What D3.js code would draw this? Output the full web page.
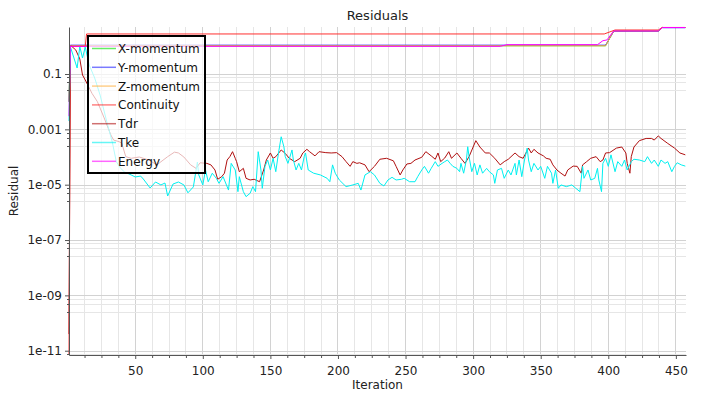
<!DOCTYPE html>
<html>
<head>
<meta charset="utf-8">
<script src="https://cdn.jsdelivr.net/npm/d3@7"></script>
<style>
  body { margin: 0; background: #fff; }
  svg { display: block; font-family: "DejaVu Sans", sans-serif; }
</style>
</head>
<body>
<div id="container"></div>
<script>
// axis ticks
const iterTicks = [50, 100, 150, 200, 250, 300, 350, 400, 450];
const residualTicks = [1e-11, 1e-9, 1e-7, 1e-5, 1e-3, 1e-1];
const residualTickLabels = ["1e-11", "1e-09", "1e-07", "1e-05", "0.001", "0.1"];

// series as [iteration, residual]
const xMomentum = [[1, 1e-2], [2, 1.05], [398, 1.05], [404, 3.6], [437, 3.6], [440, 4.8], [457, 4.8]];
const yMomentum = [[1, 1e-2], [2, 1.1], [398, 1.1], [404, 3.5], [437, 3.5], [440, 4.7], [457, 4.7]];
const zMomentum = [[1, 1e-2], [2, 1.05], [398, 1.05], [404, 3.6], [437, 3.6], [440, 4.8], [457, 4.8]];
const continuity = [[1, 7e-12], [2, 1.0], [13, 1.0], [14, 2.8], [397, 2.8], [405, 3.9], [437, 3.9], [440, 4.8], [457, 4.8]];
const energy = [[1, 3e-3], [2, 1.0], [320, 1.0], [325, 1.15], [392, 1.15], [396, 1.6], [399, 1.7], [404, 3.6], [437, 3.6], [440, 4.8], [457, 4.8]];

const tdr = [[1,4e-11],[2,1.0],[3,1.0],[6,0.74],[9,0.35],[11,0.092],[13,0.061],[18,0.02],[22,0.01],[27,2.6e-3],[32,6.2e-4],[34,4.1e-4],[38,3.6e-4],[40,3.2e-4],[43,1.03e-4],[47,9e-5],[53,1e-4],[60,7.8e-5],[66,5.2e-5],[74,1.03e-4],[79,1.5e-4],[82,1.4e-4],[86,1e-4],[91,5.2e-5],[95,3.9e-5],[98,6.2e-5],[103,5.9e-5],[106,5.2e-5],[109,3.4e-5],[111,1.57e-5],[114,1.95e-5],[116,2.6e-5],[118,7.8e-5],[120,1.03e-4],[122,1.56e-4],[124,9e-5],[125,6.8e-5],[127,2.95e-5],[130,3.9e-5],[132,1.7e-5],[135,1.48e-5],[138,1.57e-5],[142,1.28e-5],[145,3.4e-5],[147,7.8e-5],[150,1.4e-4],[152,9e-5],[154,1.03e-4],[158,1.8e-4],[161,1.35e-4],[164,9e-5],[168,6.8e-5],[172,9e-5],[174,1.4e-4],[177,1.9e-4],[179,1.56e-4],[183,1.1e-4],[186,1.56e-4],[191,1.44e-4],[195,1.4e-4],[199,1.44e-4],[203,1.03e-4],[206,6.8e-5],[209,4.6e-5],[211,6.8e-5],[214,5.9e-5],[216,6.2e-5],[220,5.2e-5],[223,2.95e-5],[227,4.6e-5],[231,8.3e-5],[236,9e-5],[241,7.3e-5],[243,4.6e-5],[246,2.25e-5],[248,3.4e-5],[251,5.6e-5],[254,5.9e-5],[257,7.8e-5],[262,9.8e-5],[265,1.56e-4],[269,1.1e-4],[272,8.3e-5],[274,1.4e-4],[276,6.8e-5],[279,9.2e-5],[282,1.56e-4],[284,9e-5],[288,1.4e-4],[291,9e-5],[294,5.9e-5],[297,1.03e-4],[300,2.3e-4],[302,3.9e-4],[305,2.3e-4],[309,1.4e-4],[312,1.4e-4],[316,9e-5],[320,5.2e-5],[323,6.8e-5],[326,8.3e-5],[331,1.4e-4],[334,1.03e-4],[337,9e-5],[341,2.1e-4],[343,1.4e-4],[345,1.9e-4],[348,1.4e-4],[352,1.1e-4],[354,9e-5],[357,8.3e-5],[359,5.2e-5],[362,3.4e-5],[365,2.6e-5],[368,2.05e-5],[370,3.4e-5],[374,4.7e-5],[377,4.6e-5],[380,2.6e-5],[381,5.2e-5],[384,6.8e-5],[387,9e-5],[391,1.03e-4],[394,6.8e-5],[396,7.8e-5],[398,1.4e-4],[401,1.44e-4],[406,2.1e-4],[410,2.3e-4],[413,1.4e-4],[414,5.9e-5],[416,2.6e-5],[417,1.03e-4],[419,2.3e-4],[423,3.9e-4],[428,4.7e-4],[432,4.7e-4],[434,4.1e-4],[437,5.8e-4],[439,4.7e-4],[444,3.1e-4],[449,2.1e-4],[453,1.4e-4],[457,1.2e-4]];

const tke = [[1,2e-3],[2,0.97],[7,0.165],[9,0.97],[11,0.38],[13,0.94],[16,0.21],[20,0.072],[24,0.0174],[29,1.84e-3],[33,3.5e-4],[36,6.8e-5],[39,4e-5],[42,2.9e-5],[47,2.25e-5],[50,1.9e-5],[54,2.05e-5],[56,1.6e-5],[61,7.6e-6],[65,1.25e-5],[69,9.8e-6],[72,1.15e-5],[74,3.9e-6],[78,1.06e-5],[82,1.25e-5],[86,9.8e-6],[89,5.1e-6],[93,8.3e-6],[96,6.6e-5],[97,2.25e-5],[100,9.8e-6],[102,3.4e-5],[104,1.28e-5],[107,2.6e-5],[110,1.7e-5],[112,1.12e-5],[115,1.95e-5],[119,6.4e-6],[121,5.9e-5],[124,3.4e-5],[126,5.6e-6],[127,1.95e-5],[130,5.6e-6],[132,3.7e-6],[135,4.9e-6],[137,8.5e-6],[139,5.6e-6],[141,1.56e-4],[143,3.4e-5],[144,7.4e-6],[146,4.6e-5],[148,7.8e-5],[150,3.4e-5],[152,9e-5],[154,2.95e-5],[156,1.4e-4],[158,5.4e-4],[160,2.35e-4],[161,1.03e-4],[163,5.9e-5],[166,1.8e-4],[167,7.8e-5],[169,3.4e-5],[171,5.9e-5],[173,3.4e-5],[175,1.03e-4],[176,1.4e-4],[178,3.4e-5],[182,2.6e-5],[187,2.25e-5],[192,1.7e-5],[194,1.28e-5],[196,5.2e-5],[198,2.6e-5],[201,1.48e-5],[206,8.5e-6],[211,9.8e-6],[215,1.12e-5],[217,6.4e-6],[220,2.25e-5],[224,2.95e-5],[227,2.25e-5],[231,1.12e-5],[234,9e-6],[237,1.48e-5],[240,1.85e-5],[243,1.48e-5],[247,1.57e-5],[249,1.7e-5],[253,1.28e-5],[257,1.28e-5],[259,1.95e-5],[262,3.4e-5],[264,4.6e-5],[267,2.6e-5],[269,3.9e-5],[272,6.8e-5],[274,4.6e-5],[277,5.9e-5],[279,6.8e-5],[281,7.8e-5],[283,5.9e-5],[285,4.6e-5],[288,3.9e-5],[290,2.95e-5],[291,5.9e-5],[293,2.6e-5],[295,7.8e-5],[296,2.35e-4],[297,1.03e-4],[299,2.95e-5],[301,5.9e-5],[303,2.25e-5],[305,5.2e-5],[307,2.6e-5],[310,3.9e-5],[312,2.95e-5],[315,2.25e-5],[316,1.12e-5],[318,3.4e-5],[321,3.9e-5],[323,1.7e-5],[326,3.4e-5],[328,2.25e-5],[331,5.9e-5],[332,2.25e-5],[334,7.8e-5],[336,1.95e-5],[338,7.8e-5],[340,2.1e-4],[341,7.8e-5],[343,2.95e-5],[345,5.9e-5],[348,3.4e-5],[350,4.6e-5],[353,1.7e-5],[355,4.6e-5],[358,2.6e-5],[359,1.12e-5],[361,3.4e-5],[363,7.4e-6],[365,9.8e-6],[369,8.5e-6],[373,9.8e-6],[376,7.4e-6],[379,5.6e-6],[381,4.6e-5],[382,1.7e-5],[385,3.4e-5],[387,1.48e-5],[390,1.7e-5],[392,3.9e-5],[393,1.48e-5],[395,5.6e-6],[396,5.9e-5],[398,9e-5],[400,4.6e-5],[402,1.2e-4],[405,2.95e-5],[407,6.8e-5],[410,4.6e-5],[412,7.8e-5],[414,3.4e-5],[417,6.8e-5],[419,8.3e-5],[423,7.8e-5],[427,6.8e-5],[429,1.03e-4],[432,5.9e-5],[434,7.8e-5],[437,4.6e-5],[439,7.8e-5],[442,5.9e-5],[444,6.8e-5],[447,2.95e-5],[449,4.6e-5],[451,6.2e-5],[454,5.2e-5],[457,4.7e-5]];

const seriesNames = ["X-momentum", "Y-momentum", "Z-momentum", "Continuity", "Tdr", "Tke", "Energy"];
const seriesData = [xMomentum, yMomentum, zMomentum, continuity, tdr, tke, energy];
const seriesColors = ["#00e000", "#2222ff", "#ffb040", "#ff3030", "#b01010", "#00f0f0", "#ff00ff"];

const W = 705, H = 396;
const margin = { top: 27, right: 19, bottom: 41, left: 69 };
const width = W - margin.left - margin.right;
const height = H - margin.top - margin.bottom;

const svg = d3.select("#container")
  .append("svg")
  .attr("width", W)
  .attr("height", H);

const g = svg.append("g")
  .attr("transform", `translate(${margin.left},${margin.top})`);

const x = d3.scaleLinear().domain([1, 457.5]).range([0, width]);
const y = d3.scaleLog().domain([7e-12, 5]).range([height, 0]).clamp(true);

// grid: vertical every 12.5 iterations, majors every 50
const vMinor = d3.range(12.5, 457.5, 12.5);
g.append("g").selectAll("line")
  .data(vMinor)
  .join("line")
  .attr("x1", d => x(d)).attr("x2", d => x(d))
  .attr("y1", 0).attr("y2", height)
  .attr("stroke", d => d % 50 === 0 ? "#d2d2d2" : "#e6e6e6")
  .attr("stroke-width", 1)
  .attr("shape-rendering", "crispEdges");

// grid: horizontal, labelled majors plus a few minors just under each one
const hLines = [];
residualTicks.forEach(v => {
  hLines.push({ v, major: true });
  const prev = v / 100;
  for (let k = 1; k < 4; k++) hLines.push({ v: v - k * (v - prev) / 4, major: false });
});
const hShown = hLines.filter(d => d.v > 7e-12 && d.v < 5);
g.append("g").selectAll("line")
  .data(hShown)
  .join("line")
  .attr("x1", 0).attr("x2", width)
  .attr("y1", d => Math.round(y(d.v)) + 0.5).attr("y2", d => Math.round(y(d.v)) + 0.5)
  .attr("stroke", d => d.major ? "#d2d2d2" : "#e6e6e6")
  .attr("stroke-width", 1);

// lines
const line = d3.line()
  .x(d => x(d[0]))
  .y(d => y(d[1]));

g.append("g")
  .selectAll("path")
  .data(seriesData)
  .join("path")
  .attr("fill", "none")
  .attr("stroke", (d, i) => seriesColors[i])
  .attr("stroke-width", 1)
  .attr("d", line);

// axes
const xAxis = g.append("g")
  .attr("transform", `translate(0,${height})`)
  .call(d3.axisBottom(x).tickValues(iterTicks).tickFormat(d3.format("d")).tickSize(4).tickSizeOuter(0).tickPadding(7));
xAxis.append("g").selectAll("line")
  .data(vMinor.filter(d => d % 50 !== 0))
  .join("line")
  .attr("x1", d => x(d) + 0.5).attr("x2", d => x(d) + 0.5)
  .attr("y1", 0).attr("y2", 3)
  .attr("stroke", "#555");

const yAxis = g.append("g")
  .call(d3.axisLeft(y).tickValues(residualTicks).tickFormat((d, i) => residualTickLabels[i]).tickSize(4).tickSizeOuter(0).tickPadding(3));
yAxis.append("g").selectAll("line")
  .data(hShown.filter(d => !d.major))
  .join("line")
  .attr("x1", -2).attr("x2", 0)
  .attr("y1", d => Math.round(y(d.v)) + 0.5).attr("y2", d => Math.round(y(d.v)) + 0.5)
  .attr("stroke", "#555");

[xAxis, yAxis].forEach(a => {
  a.select(".domain").attr("stroke", "#555");
  a.selectAll(".tick line").attr("stroke", "#555");
  a.selectAll("text")
    .attr("fill", "#222")
    .style("font-size", "12px")
    .style("font-family", "DejaVu Sans");
});

// titles
svg.append("text")
  .attr("x", margin.left + width / 2)
  .attr("y", 20)
  .attr("text-anchor", "middle")
  .style("font-size", "13px")
  .attr("fill", "#222")
  .text("Residuals");

svg.append("text")
  .attr("x", margin.left + width / 2)
  .attr("y", 389)
  .attr("text-anchor", "middle")
  .style("font-size", "12px")
  .attr("fill", "#222")
  .text("Iteration");

svg.append("text")
  .attr("transform", `translate(18,${margin.top + height / 2}) rotate(-90)`)
  .attr("text-anchor", "middle")
  .style("font-size", "12px")
  .attr("fill", "#222")
  .text("Residual");

// legend
const legend = svg.append("g")
  .attr("transform", "translate(88,36)");

legend.append("rect")
  .attr("width", 117)
  .attr("height", 137)
  .attr("fill", "#fff")
  .attr("fill-opacity", 0.7)
  .attr("stroke", "#000")
  .attr("stroke-width", 2);

seriesNames.forEach((name, i) => {
  const item = legend.append("g")
    .attr("transform", `translate(0,${12.5 + i * 18.8})`);
  item.append("line")
    .attr("x1", 4).attr("x2", 28)
    .attr("y1", 0).attr("y2", 0)
    .attr("stroke", seriesColors[i])
    .attr("stroke-opacity", 0.6)
    .attr("stroke-width", 1.5);
  item.append("text")
    .attr("x", 30)
    .attr("y", 4.5)
    .style("font-size", "12px")
    .attr("fill", "#111")
    .text(name);
});
</script>
</body>
</html>
